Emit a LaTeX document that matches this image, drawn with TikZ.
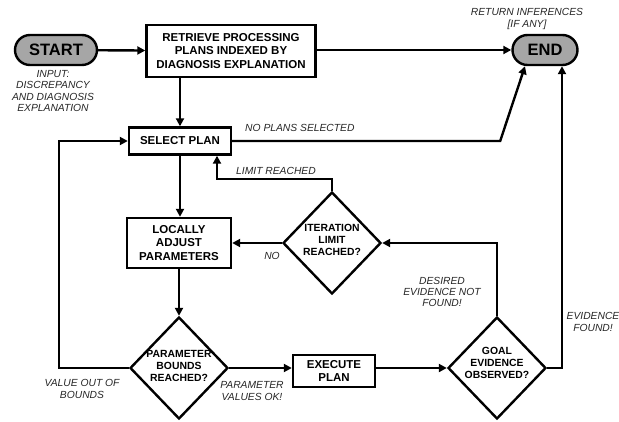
\documentclass[tikz,border=0pt]{standalone}
\usepackage{fontspec}
\setmainfont{Liberation Sans}
\usetikzlibrary{arrows.meta,shapes.geometric}
\newcommand{\bxfont}{\bfseries\fontsize{11.5}{13.5}\selectfont}
\newcommand{\dxfont}{\bfseries\fontsize{10.4}{11.6}\selectfont}
\newcommand{\lxfont}{\itshape\fontsize{10.3}{11.4}\selectfont}
\tikzset{
  box/.style={draw,line width=2.4pt,align=center,inner sep=0pt,font=\bxfont},
  pill/.style={draw,line width=2.4pt,fill=gray!70,rounded corners=15pt,minimum height=30pt,inner sep=0pt,
    font=\bfseries\fontsize{16.5}{18}\selectfont},
  dia/.style={draw,diamond,line width=2.4pt,minimum width=98pt,minimum height=102pt,inner sep=0pt},
  dtext/.style={align=center,inner sep=0pt,font=\dxfont},
  lbl/.style={align=center,inner sep=0pt,font=\lxfont,text=black!85},
  arr/.style={line width=2.4pt,-{Triangle[length=8pt,width=8pt]}}
}

\begin{document}
\begin{tikzpicture}[x=1pt,y=-1pt]
  \useasboundingbox (0,0) rectangle (619,421);
  % boxes
  \node[pill,minimum width=82pt] (start) at (56,50) {START};
  \node[box,minimum width=169pt,minimum height=52pt] (ret) at (231,51) {RETRIEVE PROCESSING\\PLANS INDEXED BY\\DIAGNOSIS EXPLANATION};
  \node[pill,minimum width=65pt] (end) at (545,50) {END};
  \node[box,minimum width=102pt,minimum height=27pt] (sel) at (180,141) {SELECT PLAN};
  \node[box,minimum width=104pt,minimum height=50pt] (loc) at (179,243) {LOCALLY\\ADJUST\\PARAMETERS};
  \node[box,minimum width=82pt,minimum height=32pt] (exe) at (334,371) {EXECUTE\\PLAN};
  % decisions
  \node[dia] (it) at (332,243) {};
  \node[dtext] at ([yshift=3pt]it.center) {ITERATION\\LIMIT\\REACHED?};
  \node[dia] (pb) at (179,368) {};
  \node[dtext] at ([yshift=2pt]pb.center) {PARAMETER\\BOUNDS\\REACHED?};
  \node[dia] (goal) at (497,368) {};
  \node[dtext] at ([yshift=5pt]goal.center) {GOAL\\EVIDENCE\\OBSERVED?};
  % arrows
  \draw[arr] (start) -- (ret);
  \draw[arr] (ret.east |- end) -- (end.west);
  \draw[arr] (ret.south -| sel.north) -- (sel.north);
  \draw[arr] (sel.east) -- ++(268,0) -- ([xshift=-20pt]end.south);
  \draw[arr] (sel.south) -- (sel.south |- loc.north);
  \draw[arr] (loc.south) -- (pb.north);
  \draw[arr] (pb.east) -- (pb.east -| exe.west);
  \draw[arr] (pb.west) -- ++(-70,0) |- (sel.west);
  \draw[arr] (exe.east |- goal) -- (goal.west);
  \draw[arr] (goal.north) |- (it.east);
  \draw[arr] (goal.east) -| ([xshift=17pt]end.south);
  \draw[arr] (it.west) -- (loc.east |- it.west);
  \draw[arr] (it.north) -- ++(0,-12) -| ([xshift=37pt]sel.south);
  % labels
  \node[lbl] (inp) at (53,91) {INPUT:\\DISCREPANCY\\AND DIAGNOSIS\\EXPLANATION};
  \node[lbl] (rinf) at (527,19) {RETURN INFERENCES\\{[IF ANY]}};
  \node[lbl,anchor=west] (nps) at (245,128) {NO PLANS SELECTED};
  \node[lbl] (lr) at (276,171) {LIMIT REACHED};
  \node[lbl] (no) at (272,256) {NO};
  \node[lbl] (dnf) at (442,292) {DESIRED\\EVIDENCE NOT\\FOUND!};
  \node[lbl] (ef) at (593,322) {EVIDENCE\\FOUND!};
  \node[lbl] (vob) at (82,389) {VALUE OUT OF\\BOUNDS};
  \node[lbl] (pvo) at (252,391) {PARAMETER\\VALUES OK!};
\end{tikzpicture}
\end{document}
